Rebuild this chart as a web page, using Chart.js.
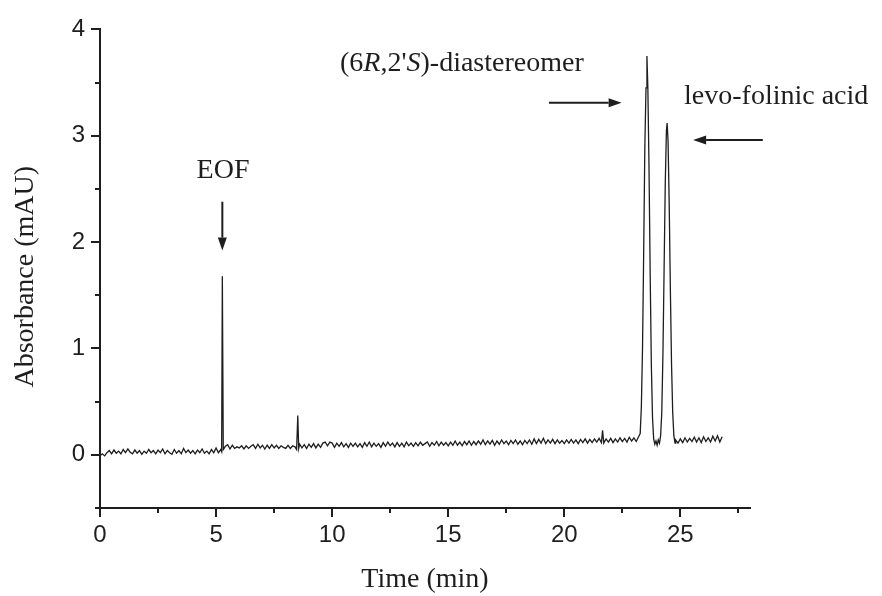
<!DOCTYPE html>
<html>
<head>
<meta charset="utf-8">
<script src="https://cdn.jsdelivr.net/npm/chart.js@4/dist/chart.umd.min.js"></script>
<style>
  html, body { margin: 0; padding: 0; background: #ffffff; }
  #wrap { width: 882px; height: 596px; }
</style>
</head>
<body>
<div id="wrap"><canvas id="c" width="882" height="596"></canvas></div>
<script>
// ---- Data ----
const timesMin = [
  0.0,0.1,0.2,0.3,0.4,0.5,0.6,0.7,0.8,0.9,
  1.0,1.1,1.2,1.3,1.4,1.5,1.6,1.7,1.8,1.9,
  2.0,2.1,2.2,2.3,2.4,2.5,2.6,2.7,2.8,2.9,
  3.0,3.1,3.2,3.3,3.4,3.5,3.6,3.7,3.8,3.9,
  4.0,4.1,4.2,4.3,4.4,4.5,4.6,4.7,4.8,4.9,
  5.0,5.1,5.2,
  5.24,5.27,5.31,
  5.4,5.5,5.6,5.7,5.8,5.9,
  6.0,6.1,6.2,6.3,6.4,6.5,6.6,6.7,6.8,6.9,
  7.0,7.1,7.2,7.3,7.4,7.5,7.6,7.7,7.8,7.9,
  8.0,8.1,8.2,8.3,8.4,
  8.47,8.52,8.56,
  8.6,8.7,8.8,8.9,
  9.0,9.1,9.2,9.3,9.4,9.5,9.6,9.7,9.8,9.9,
  10.0,10.1,10.2,10.3,10.4,10.5,10.6,10.7,10.8,10.9,
  11.0,11.1,11.2,11.3,11.4,11.5,11.6,11.7,11.8,11.9,
  12.0,12.1,12.2,12.3,12.4,12.5,12.6,12.7,12.8,12.9,
  13.0,13.1,13.2,13.3,13.4,13.5,13.6,13.7,13.8,13.9,
  14.0,14.1,14.2,14.3,14.4,14.5,14.6,14.7,14.8,14.9,
  15.0,15.1,15.2,15.3,15.4,15.5,15.6,15.7,15.8,15.9,
  16.0,16.1,16.2,16.3,16.4,16.5,16.6,16.7,16.8,16.9,
  17.0,17.1,17.2,17.3,17.4,17.5,17.6,17.7,17.8,17.9,
  18.0,18.1,18.2,18.3,18.4,18.5,18.6,18.7,18.8,18.9,
  19.0,19.1,19.2,19.3,19.4,19.5,19.6,19.7,19.8,19.9,
  20.0,20.1,20.2,20.3,20.4,20.5,20.6,20.7,20.8,20.9,
  21.0,21.1,21.2,21.3,21.4,21.5,21.6,
  21.65,
  21.7,21.8,21.9,
  22.0,22.1,22.2,22.3,22.4,22.5,22.6,22.7,22.8,22.9,
  23.0,23.1,23.2,
  23.27,23.32,23.37,23.42,23.47,23.52,23.56,23.60,23.65,23.70,
  23.75,23.80,23.85,23.90,23.95,24.00,24.05,24.10,24.15,24.20,
  24.25,24.30,24.35,24.40,24.43,24.47,24.52,24.57,24.62,24.67,
  24.72,24.77,24.80,
  24.9,25.0,25.1,25.2,25.3,25.4,25.5,25.6,25.7,25.8,
  25.9,26.0,26.1,26.2,26.3,26.4,26.5,26.6,26.7,26.8
];

const absorbanceMAU = [
  -0.01,0.01,-0.01,0.02,0.04,0.01,0.045,0.015,0.035,0.01,
  0.05,0.02,0.055,0.025,0.01,0.045,0.015,0.04,0.005,0.035,
  0.015,0.05,0.02,0.04,0.01,0.045,0.02,0.055,0.01,0.04,
  0.02,0.005,0.05,0.015,0.04,0.01,0.06,0.02,0.045,0.015,
  0.04,0.01,0.045,0.02,0.055,0.015,0.035,0.01,0.05,0.02,
  0.065,0.02,0.05,
  0.03,1.68,0.05,
  0.08,0.095,0.055,0.09,0.06,0.075,
  0.065,0.085,0.055,0.085,0.06,0.08,0.095,0.06,0.1,0.065,
  0.09,0.055,0.09,0.06,0.095,0.065,0.09,0.06,0.085,0.07,
  0.06,0.09,0.06,0.085,0.075,
  0.05,0.37,0.06,
  0.1,0.065,0.095,0.06,
  0.1,0.07,0.105,0.065,0.1,0.07,0.11,0.12,0.085,0.12,
  0.11,0.07,0.11,0.08,0.115,0.075,0.105,0.07,0.11,0.08,
  0.11,0.075,0.105,0.07,0.115,0.08,0.12,0.075,0.11,0.08,
  0.105,0.07,0.115,0.08,0.12,0.085,0.11,0.075,0.115,0.08,
  0.11,0.075,0.12,0.085,0.11,0.08,0.115,0.085,0.12,0.09,
  0.105,0.12,0.08,0.115,0.09,0.125,0.085,0.12,0.09,0.115,
  0.085,0.12,0.09,0.13,0.09,0.12,0.085,0.125,0.095,0.13,
  0.09,0.125,0.095,0.13,0.1,0.14,0.095,0.13,0.1,0.135,
  0.09,0.13,0.1,0.14,0.105,0.13,0.095,0.135,0.105,0.14,
  0.1,0.13,0.095,0.135,0.105,0.14,0.1,0.15,0.105,0.145,
  0.11,0.155,0.105,0.14,0.11,0.145,0.105,0.14,0.11,0.135,
  0.105,0.14,0.11,0.145,0.11,0.14,0.105,0.145,0.115,0.15,
  0.11,0.145,0.115,0.15,0.12,0.155,0.115,
  0.23,
  0.11,0.15,0.12,
  0.155,0.115,0.15,0.12,0.16,0.125,0.155,0.12,0.165,0.13,
  0.16,0.125,0.17,
  0.2,0.45,1.0,1.9,2.9,3.45,3.75,3.45,2.7,1.7,
  0.85,0.35,0.15,0.1,0.13,0.09,0.14,0.11,0.18,0.4,
  0.95,1.75,2.55,3.05,3.12,2.95,2.35,1.55,0.85,0.4,
  0.18,0.11,0.14,
  0.11,0.15,0.115,0.16,0.12,0.155,0.125,0.165,0.12,0.16,
  0.115,0.17,0.125,0.16,0.12,0.175,0.13,0.18,0.12,0.17
];

const xTickLabels = [0, 5, 10, 15, 20, 25];
const xMinorTicks = [2.5, 7.5, 12.5, 17.5, 22.5, 27.5];
const yTickLabels = [0, 1, 2, 3, 4];
const yMinorTicks = [-0.5, 0.5, 1.5, 2.5, 3.5];

// Annotation texts
const peakLabels = {
  eof: 'EOF',
  diastereomer: ['(6', 'R', ",2'", 'S', ')-diastereomer'],
  levo: 'levo-folinic acid'
};

if (timesMin.length !== absorbanceMAU.length) {
  console.error('length mismatch', timesMin.length, absorbanceMAU.length);
}

const points = timesMin.map((t, i) => ({ x: t, y: absorbanceMAU[i] }));

const INK = '#1e1e1e';
const SERIF = '"Liberation Serif", "Times New Roman", serif';

function arrow(ctx, x1, y1, x2, y2) {
  const ang = Math.atan2(y2 - y1, x2 - x1);
  const headLen = 13, headHalf = 4.5;
  const bx = x2 - headLen * Math.cos(ang), by = y2 - headLen * Math.sin(ang);
  ctx.beginPath();
  ctx.moveTo(x1, y1);
  ctx.lineTo(bx, by);
  ctx.lineWidth = 2;
  ctx.stroke();
  ctx.beginPath();
  ctx.moveTo(x2, y2);
  ctx.lineTo(bx + headHalf * Math.sin(ang), by - headHalf * Math.cos(ang));
  ctx.lineTo(bx - headHalf * Math.sin(ang), by + headHalf * Math.cos(ang));
  ctx.closePath();
  ctx.fill();
}

const decorPlugin = {
  id: 'decor',
  afterDraw(chart) {
    const { ctx, chartArea: ca } = chart;
    const xs = chart.scales.x, ys = chart.scales.y;
    const X = v => xs.getPixelForValue(v);
    const Y = v => ys.getPixelForValue(v);
    ctx.save();
    ctx.strokeStyle = INK;
    ctx.fillStyle = INK;
    ctx.lineWidth = 2;
    ctx.lineCap = 'butt';
    const tick = (x1, y1, x2, y2) => { ctx.beginPath(); ctx.moveTo(x1, y1); ctx.lineTo(x2, y2); ctx.stroke(); };
    xTickLabels.forEach(v => { const p = Math.round(X(v)); tick(p, ca.bottom, p, ca.bottom + 9); });
    xMinorTicks.forEach(v => { const p = Math.round(X(v)); tick(p, ca.bottom, p, ca.bottom + 5); });
    yTickLabels.forEach(v => { const p = Math.round(Y(v)); tick(ca.left, p, ca.left - 9, p); });
    yMinorTicks.forEach(v => { const p = Math.round(Y(v)); tick(ca.left, p, ca.left - 5, p); });

    ctx.font = '28px ' + SERIF;
    ctx.textBaseline = 'alphabetic';
    ctx.textAlign = 'center';
    ctx.fillText(peakLabels.eof, X(5.30), Y(2.60));
    arrow(ctx, X(5.27), Y(2.38), X(5.27), Y(1.92));

    ctx.textAlign = 'left';
    let cx = X(10.34);
    const by = Y(3.61);
    peakLabels.diastereomer.forEach((seg, i) => {
      ctx.font = (i === 1 || i === 3 ? 'italic ' : '') + '28px ' + SERIF;
      ctx.fillText(seg, cx, by);
      cx += ctx.measureText(seg).width;
    });
    ctx.font = '28px ' + SERIF;
    arrow(ctx, X(19.34), Y(3.31), X(22.47), Y(3.31));

    ctx.fillText(peakLabels.levo, X(25.16), Y(3.30));
    arrow(ctx, X(28.55), Y(2.96), X(25.55), Y(2.96));

    ctx.save();
    ctx.translate(ca.left - 67, (ca.top + ca.bottom) / 2 + 8);
    ctx.rotate(-Math.PI / 2);
    ctx.textAlign = 'center';
    ctx.fillText('Absorbance (mAU)', 0, 0);
    ctx.restore();

    ctx.restore();
  }
};

new Chart(document.getElementById('c'), {
  type: 'line',
  data: {
    datasets: [{
      data: points,
      borderColor: INK,
      borderWidth: 1.3,
      pointRadius: 0,
      tension: 0,
      fill: false
    }]
  },
  options: {
    responsive: false,
    animation: false,
    layout: { padding: { left: 0, right: 132, top: 24, bottom: 0 } },
    plugins: { legend: { display: false }, tooltip: { enabled: false } },
    scales: {
      x: {
        type: 'linear',
        min: 0, max: 28,
        afterBuildTicks: s => { s.ticks = xTickLabels.map(v => ({ value: v })); },
        afterFit: s => { s.height = 88; },
        grid: { display: false, drawTicks: false },
        border: { display: true, color: INK, width: 2 },
        ticks: {
          padding: 13,
          color: INK,
          font: { family: '"Liberation Sans", Arial, sans-serif', size: 24 },
          maxRotation: 0
        },
        title: {
          display: true,
          text: 'Time (min)',
          color: INK,
          font: { family: SERIF, size: 28 },
          padding: { top: 0, bottom: 0 }
        }
      },
      y: {
        type: 'linear',
        min: -0.5, max: 4,
        afterBuildTicks: s => { s.ticks = yTickLabels.map(v => ({ value: v })); },
        afterFit: s => { s.width = 100; },
        grid: { display: false, drawTicks: false },
        border: { display: true, color: INK, width: 2 },
        ticks: {
          padding: 15,
          color: INK,
          font: { family: '"Liberation Sans", Arial, sans-serif', size: 24 }
        }
      }
    }
  },
  plugins: [decorPlugin]
});
</script>
</body>
</html>
